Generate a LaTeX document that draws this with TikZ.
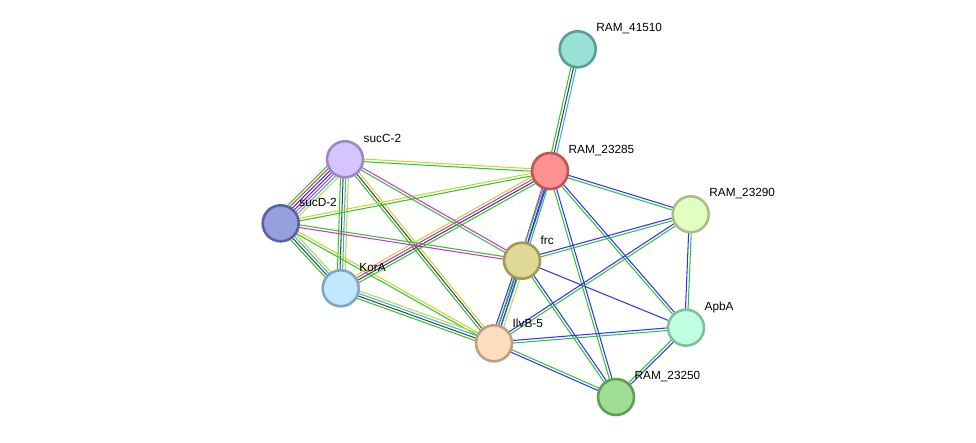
\documentclass[tikz,border=0pt]{standalone}
\usepackage{fontspec}
\setmainfont{Liberation Sans}
\usetikzlibrary{calc}
\pgfdeclarelayer{edgelayer}
\pgfsetlayers{edgelayer,main}
\definecolor{cG}{RGB}{50,195,50}
\definecolor{cY}{RGB}{199,214,50}
\definecolor{cK}{RGB}{70,70,70}
\definecolor{cM}{RGB}{210,50,210}
\definecolor{cC}{RGB}{50,180,230}
\definecolor{cB}{RGB}{50,50,255}
\definecolor{cR}{RGB}{240,50,50}
\newcommand{\edgebundle}[3]{%
  \foreach \col [count=\i] in {#3} {\xdef\nlines{\i}}%
  \foreach \col [count=\i] in {#3} {%
    \pgfmathsetmacro\off{(\i-(\nlines+1)/2)*2.6}%
    \draw[edgeline, color=\col] ($(#1.center)!\off pt!90:(#2.center)$) -- ($(#2.center)!\off pt!-90:(#1.center)$);
  }}
\tikzset{
  prot/.style={circle, minimum size=36pt, inner sep=0pt, line width=2.6pt},
  lab/.style={anchor=west, inner sep=0pt, font=\fontsize{11.8}{14}\selectfont},
  edgeline/.style={line width=1.05pt}
}
\begin{document}
\begin{tikzpicture}[x=1pt,y=-1pt]
\useasboundingbox (0,0) rectangle (976,443);
\node[prot, fill={rgb,255:red,153;green,224;blue,214}, draw={rgb,255:red,90;green,158;blue,150}] (r41510) at (577.7,49.3) {};
\node[prot, fill={rgb,255:red,255;green,145;blue,145}, draw={rgb,255:red,192;green,85;blue,85}] (r23285) at (550,171) {};
\node[prot, fill={rgb,255:red,224;green,255;blue,192}, draw={rgb,255:red,168;green,192;blue,136}] (r23290) at (690.7,214.3) {};
\node[prot, fill={rgb,255:red,212;green,196;blue,255}, draw={rgb,255:red,156;green,136;blue,200}] (sucC) at (345,159.3) {};
\node[prot, fill={rgb,255:red,150;green,160;blue,220}, draw={rgb,255:red,90;green,100;blue,160}] (sucD) at (280.7,223.3) {};
\node[prot, fill={rgb,255:red,222;green,218;blue,150}, draw={rgb,255:red,160;green,154;blue,90}] (frc) at (522,260.7) {};
\node[prot, fill={rgb,255:red,192;green,232;blue,255}, draw={rgb,255:red,128;green,168;blue,192}] (korA) at (340.7,288.3) {};
\node[prot, fill={rgb,255:red,255;green,222;blue,192}, draw={rgb,255:red,188;green,160;blue,128}] (ilvB) at (494,343.3) {};
\node[prot, fill={rgb,255:red,192;green,255;blue,224}, draw={rgb,255:red,128;green,192;blue,160}] (apbA) at (686,327.7) {};
\node[prot, fill={rgb,255:red,160;green,222;blue,150}, draw={rgb,255:red,96;green,158;blue,88}] (r23250) at (616,397) {};

\node[lab] (l41510) at ($(r41510)+(18.5,-20.5)$) {RAM\_41510};
\node[lab] (l23285) at ($(r23285)+(18.5,-20.5)$) {RAM\_23285};
\node[lab] (l23290) at ($(r23290)+(18.5,-20.5)$) {RAM\_23290};
\node[lab] (lsucC) at ($(sucC)+(18.5,-20.5)$) {sucC-2};
\node[lab] (lsucD) at ($(sucD)+(18.5,-20.5)$) {sucD-2};
\node[lab] (lfrc) at ($(frc)+(18.5,-20.5)$) {frc};
\node[lab] (lkorA) at ($(korA)+(18.5,-20.5)$) {KorA};
\node[lab] (lilvB) at ($(ilvB)+(18.5,-20.5)$) {IlvB-5};
\node[lab] (lapbA) at ($(apbA)+(18.5,-20.5)$) {ApbA};
\node[lab] (l23250) at ($(r23250)+(18.5,-20.5)$) {RAM\_23250};

\begin{pgfonlayer}{edgelayer}
\edgebundle{r41510}{r23285}{cG,cK,cC}
\edgebundle{sucC}{sucD}{cG,cR,cB,cK,cM,cC,cY}
\edgebundle{sucC}{korA}{cG,cK,cC,cY}
\edgebundle{sucD}{korA}{cG,cK,cC,cY}
\edgebundle{sucC}{ilvB}{cG,cK,cY}
\edgebundle{sucD}{ilvB}{cG,cY}
\edgebundle{korA}{ilvB}{cG,cK,cC,cY}
\edgebundle{sucC}{r23285}{cG,cY}
\edgebundle{sucD}{r23285}{cG,cY}
\edgebundle{korA}{r23285}{cG,cK,cM,cY}
\edgebundle{sucC}{frc}{cG,cM}
\edgebundle{sucD}{frc}{cM,cG}
\edgebundle{frc}{r23285}{cG,cB,cM}
\edgebundle{frc}{ilvB}{cB,cK,cC,cY}
\edgebundle{r23285}{ilvB}{cG,cB}
\edgebundle{r23285}{r23290}{cG,cB}
\edgebundle{r23285}{apbA}{cG,cB}
\edgebundle{r23285}{r23250}{cG,cB}
\edgebundle{frc}{r23290}{cG,cB}
\edgebundle{frc}{apbA}{cB}
\edgebundle{frc}{r23250}{cG,cB}
\edgebundle{ilvB}{r23290}{cG,cB}
\edgebundle{ilvB}{apbA}{cG,cB}
\edgebundle{ilvB}{r23250}{cB,cG}
\edgebundle{r23290}{apbA}{cB,cG}
\edgebundle{apbA}{r23250}{cG,cB}
\end{pgfonlayer}
\end{tikzpicture}
\end{document}
